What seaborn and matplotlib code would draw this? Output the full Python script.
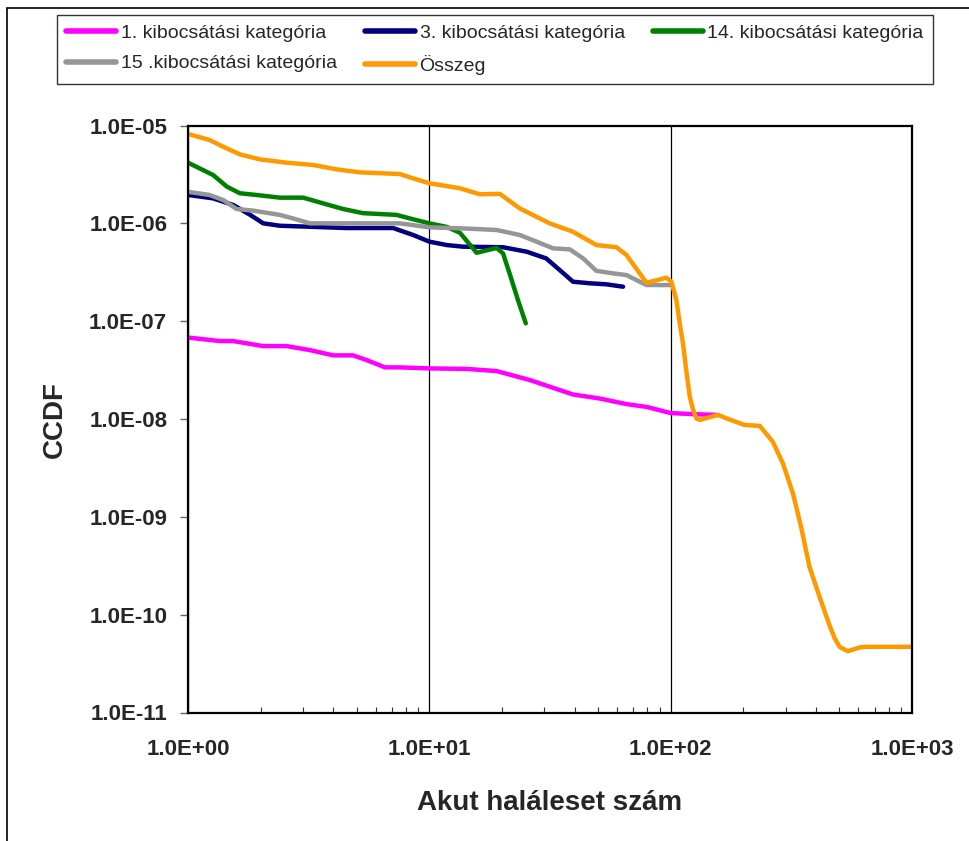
import numpy as np
import pandas as pd
import matplotlib
matplotlib.use("Agg")
import matplotlib.pyplot as plt
from matplotlib.patches import Rectangle
from matplotlib.ticker import FuncFormatter, LogLocator, NullFormatter, NullLocator
import seaborn as sns

# --- CCDF curves per release category (x: acute fatalities, y: CCDF) ---
cat1_x = [1, 1.36, 1.54, 2.05, 2.56, 3.2, 4.0, 4.83, 5.5, 6.55, 7.55, 10, 14.3,
          19, 26.1, 39.4, 50.8, 65.6, 79.4, 100, 125, 157]
cat1_y = [6.8e-8, 6.26e-8, 6.26e-8, 5.56e-8, 5.56e-8, 5.06e-8, 4.47e-8, 4.47e-8,
          4.0e-8, 3.37e-8, 3.37e-8, 3.29e-8, 3.25e-8, 3.09e-8, 2.5e-8, 1.78e-8,
          1.62e-8, 1.42e-8, 1.33e-8, 1.15e-8, 1.12e-8, 1.1e-8]

cat3_x = [1, 1.27, 1.54, 1.81, 2.05, 2.4, 3.3, 4.54, 7.08, 8.57, 10, 11.8, 13.8,
          20.2, 25.3, 30.5, 34.7, 39.4, 46.2, 54.2, 63.5]
cat3_y = [1.95e-6, 1.8e-6, 1.54e-6, 1.22e-6, 1.0e-6, 9.45e-7, 9.2e-7, 8.95e-7,
          8.95e-7, 7.6e-7, 6.5e-7, 6.0e-7, 5.77e-7, 5.7e-7, 5.13e-7, 4.38e-7,
          3.33e-7, 2.53e-7, 2.44e-7, 2.38e-7, 2.25e-7]

cat14_x = [1, 1.27, 1.45, 1.64, 1.92, 2.4, 3.0, 3.63, 4.4, 5.32, 7.31, 8.57, 10,
           11.8, 13.4, 15.7, 17.3, 19, 20.2, 21.5, 23.3, 25.1]
cat14_y = [4.17e-6, 3.12e-6, 2.37e-6, 2.03e-6, 1.95e-6, 1.83e-6, 1.83e-6, 1.6e-6,
           1.4e-6, 1.27e-6, 1.22e-6, 1.1e-6, 1.0e-6, 9.2e-7, 8.0e-7, 5.0e-7,
           5.3e-7, 5.6e-7, 4.93e-7, 3.08e-7, 1.64e-7, 9.5e-8]

cat15_x = [1, 1.23, 1.4, 1.59, 1.86, 2.4, 2.73, 3.2, 3.87, 7.55, 10, 13.4, 19,
           23.7, 27.8, 32.6, 38.2, 43.4, 49.2, 57.7, 65.6, 79.4, 99]
cat15_y = [2.1e-6, 1.95e-6, 1.73e-6, 1.4e-6, 1.35e-6, 1.22e-6, 1.12e-6, 1.0e-6,
           1.0e-6, 1.0e-6, 9.1e-7, 8.9e-7, 8.55e-7, 7.6e-7, 6.5e-7, 5.55e-7,
           5.42e-7, 4.38e-7, 3.27e-7, 3.08e-7, 2.96e-7, 2.34e-7, 2.34e-7]

total_x = [1, 1.23, 1.4, 1.64, 1.99, 2.56, 3.3, 4.13, 5.15, 7.55, 8.57, 10.05,
           11.05, 13.4, 16.2, 19.6, 23.7, 31.5, 39.4, 49.2, 59.6, 65.6, 79.4, 96,
           100.7, 105.6, 109, 112.5, 116, 120, 124, 128, 132, 157, 175, 202, 234,
           265, 292, 321, 347, 376, 414, 455, 478, 501, 542, 606, 646, 1000]
total_y = [8.2e-6, 7.1e-6, 6.06e-6, 5.07e-6, 4.5e-6, 4.17e-6, 3.95e-6, 3.56e-6,
           3.32e-6, 3.19e-6, 2.88e-6, 2.56e-6, 2.47e-6, 2.28e-6, 1.98e-6, 2.0e-6,
           1.42e-6, 1.0e-6, 8.2e-7, 6.0e-7, 5.7e-7, 4.74e-7, 2.47e-7, 2.78e-7,
           2.53e-7, 1.64e-7, 9.5e-8, 5.9e-8, 3.16e-8, 1.69e-8, 1.23e-8, 1.01e-8,
           9.8e-9, 1.1e-8, 9.9e-9, 8.7e-9, 8.5e-9, 5.85e-9, 3.5e-9, 1.74e-9,
           7.9e-10, 3.08e-10, 1.52e-10, 7.8e-11, 5.75e-11, 4.69e-11, 4.23e-11,
           4.62e-11, 4.69e-11, 4.69e-11]

series_names = ["1. kibocsátási kategória", "3. kibocsátási kategória",
                "14. kibocsátási kategória", "15 .kibocsátási kategória", "Összeg"]
series_colors = ["#FF00FF", "#000080", "#008000", "#969696", "#FF9900"]

x_ticks = [1, 10, 100, 1000]
y_ticks = [1e-11, 1e-10, 1e-9, 1e-8, 1e-7, 1e-6, 1e-5]

frames = []
for name, xs, ys in zip(series_names,
                        [cat1_x, cat3_x, cat14_x, cat15_x, total_x],
                        [cat1_y, cat3_y, cat14_y, cat15_y, total_y]):
    frames.append(pd.DataFrame({"x": xs, "y": ys, "series": name}))
df = pd.concat(frames, ignore_index=True)

sns.set_style("white")
plt.rcParams["font.family"] = ["Liberation Sans", "DejaVu Sans"]

fig = plt.figure(figsize=(9.7, 8.41), dpi=100)
ax = fig.add_axes([188 / 970, 1 - 712.5 / 841, (912 - 188) / 970, (712.5 - 125.5) / 841])

sns.lineplot(data=df, x="x", y="y", hue="series", hue_order=series_names,
             palette=series_colors, sort=False, estimator=None, units="series",
             linewidth=3.2, ax=ax, legend=True)
for line in ax.get_lines():
    line.set_solid_joinstyle("round")
    line.set_solid_capstyle("round")

ax.set_xscale("log")
ax.set_yscale("log")
ax.set_xlim(1, 1000)
ax.set_ylim(1e-11, 1e-5)

ax.set_xticks(x_ticks)
ax.set_yticks(y_ticks)
fmt = FuncFormatter(lambda v, _: f"{v:.1E}")
ax.xaxis.set_major_formatter(fmt)
ax.yaxis.set_major_formatter(fmt)
ax.xaxis.set_minor_locator(LogLocator(base=10, subs=np.arange(2, 10)))
ax.xaxis.set_minor_formatter(NullFormatter())
ax.yaxis.set_minor_locator(NullLocator())

ax.tick_params(axis="x", which="major", length=0, pad=19, labelsize=16)
ax.tick_params(axis="x", which="minor", direction="in", length=4, width=0.8,
               color="#333333", bottom=True)
ax.tick_params(axis="y", which="major", direction="out", length=6, width=1,
               color="#666666", pad=9, labelsize=16, left=True)
for lab in ax.get_xticklabels() + ax.get_yticklabels():
    lab.set_fontweight("bold")

# vertical gridlines at the decades only
ax.grid(False)
ax.xaxis.grid(True, which="major", color="black", linewidth=0.9)
ax.set_axisbelow(True)

for sp in ax.spines.values():
    sp.set_visible(True)
    sp.set_color("black")
    sp.set_linewidth(1.6)

ax.set_xlabel("Akut haláleset szám", fontsize=20, fontweight="bold", labelpad=22)
ax.set_ylabel("CCDF", fontsize=20, fontweight="bold", labelpad=15)

handles, labels = ax.get_legend_handles_labels()
ax.get_legend().remove()
lut = dict(zip(labels, handles))
order = [series_names[0], series_names[3], series_names[1], series_names[4], series_names[2]]
leg = fig.legend([lut[n] for n in order], order, loc="upper left",
                 bbox_to_anchor=(57 / 970, 1 - 15 / 841), ncol=3, fontsize=14,
                 frameon=True, fancybox=False, edgecolor="black",
                 handlelength=2.55, handletextpad=0.25, columnspacing=1.45,
                 labelspacing=0.66, borderpad=0.48, borderaxespad=0)
leg.get_frame().set_linewidth(1.0)
for h in leg.legend_handles:
    h.set_linewidth(4)

# chart area frame
fig.add_artist(Rectangle((7.5 / 970, -0.1), 1.2, 1 - 7.5 / 841 + 0.1,
                         transform=fig.transFigure, fill=False,
                         edgecolor="black", linewidth=1.2))

fig.savefig("out.png", dpi=100)
